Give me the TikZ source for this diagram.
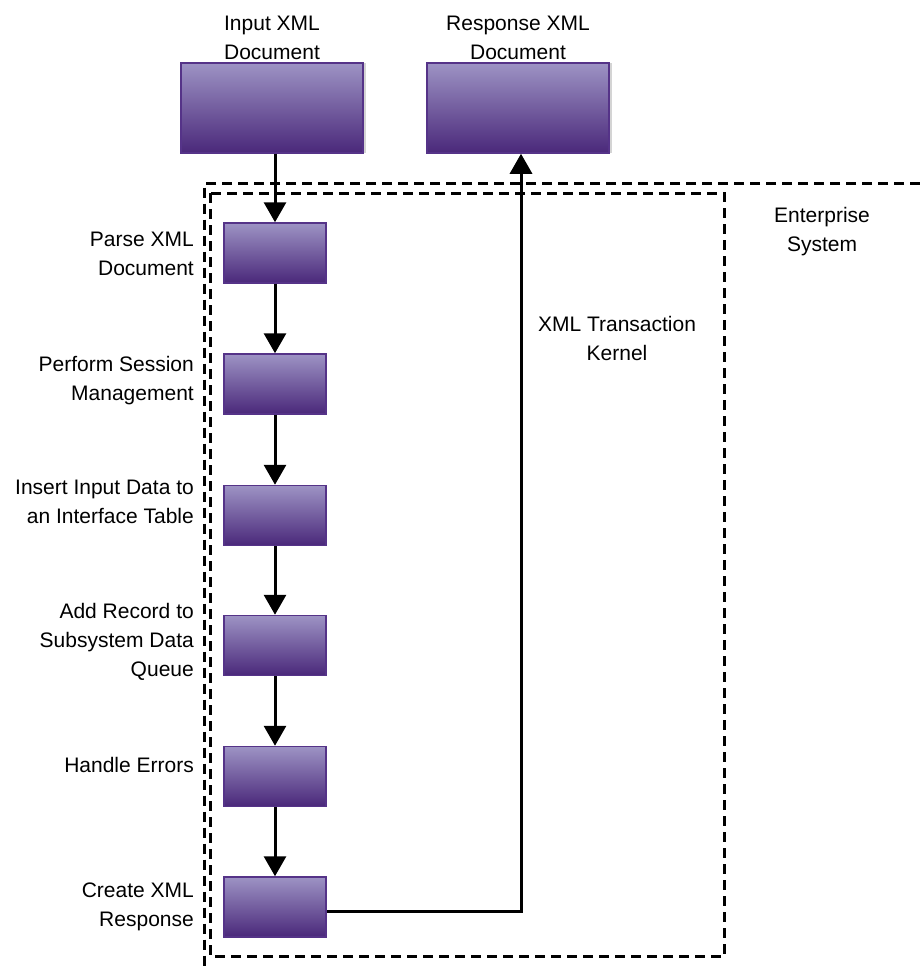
\documentclass[tikz,border=0pt]{standalone}
\usepackage{fontspec}
\setmainfont{Liberation Sans}
\usetikzlibrary{arrows.meta}

\definecolor{boxtop}{HTML}{9D93C4}
\definecolor{boxbottom}{HTML}{4A287A}
\definecolor{boxedge}{HTML}{553388}
\definecolor{boxshadow}{HTML}{D4D4D4}

\tikzset{
  txt/.style={font=\fontsize{21}{29}\selectfont, inner sep=0pt, text=black},
  labelleft/.style={txt, anchor=east, align=right},
  labelmid/.style={txt, align=center},
  stepbox/.style={draw=boxedge, line width=1.5pt, top color=boxtop, bottom color=boxbottom,
                  minimum width=102pt, minimum height=60pt, inner sep=0pt},
  docbox/.style={stepbox, minimum width=182pt, minimum height=90pt},
  flow/.style={line width=3pt, -{Triangle[width=22pt,length=20pt]}},
  boundary/.style={line width=3pt, dash pattern=on 10pt off 6pt},
}

\begin{document}
\begin{tikzpicture}[x=1pt,y=-1pt]
  \useasboundingbox (0,0) rectangle (920,969);

  % system boundaries
  \draw[boundary] (920,183.5) -- (204,183.5) -- (204,969);
  \draw[boundary] (210.5,193) rectangle (724,956.5);

  % documents exchanged with the enterprise system
  \fill[boxshadow] (184,63) rectangle (366,153);
  \fill[boxshadow] (430,63) rectangle (612,153);
  \node[docbox] (input) at (272,108) {};
  \node[docbox] (response) at (518,108) {};
  \node[labelmid] (inputlbl) at (272,38) {Input XML\\Document};
  \node[labelmid] (responselbl) at (518,38) {Response XML\\Document};

  % processing steps of the transaction kernel
  \node[stepbox] (parse)   at (275,253)   {};
  \node[stepbox] (session) at (275,384)   {};
  \node[stepbox] (insert)  at (275,515.5) {};
  \node[stepbox] (queue)   at (275,645.5) {};
  \node[stepbox] (errors)  at (275,776.5) {};
  \node[stepbox] (create)  at (275,907)   {};

  \node[labelleft] (parselbl)   at (194,254) {Parse XML\\Document};
  \node[labelleft] (sessionlbl) at (194,381) {Perform Session\\Management};
  \node[labelleft] (insertlbl)  at (194,502) {Insert Input Data to\\an Interface Table};
  \node[labelleft] (queuelbl)   at (194,642) {Add Record to\\Subsystem Data\\Queue};
  \node[labelleft] (errorslbl)  at (194,765) {Handle Errors};
  \node[labelleft] (createlbl)  at (194,907) {Create XML\\Response};

  \node[labelmid] (kernellbl) at (617,338) {XML Transaction\\Kernel};
  \node[labelmid] (entlbl)    at (822,232) {Enterprise\\System};

  % flow through the kernel
  \draw[flow] (input.south -| parse.north) -- (parse.north);
  \draw[flow] (parse.south) -- (session.north);
  \draw[flow] (session.south) -- (insert.north);
  \draw[flow] (insert.south) -- (queue.north);
  \draw[flow] (queue.south) -- (errors.north);
  \draw[flow] (errors.south) -- (create.north);

  % response returned to the caller
  \coordinate (turn) at (521,911);
  \draw[line width=3pt, -{Triangle[width=22pt,length=20pt]}]
    ([yshift=-4pt]create.east) -- (turn) -- (turn |- response.south);
\end{tikzpicture}
\end{document}
